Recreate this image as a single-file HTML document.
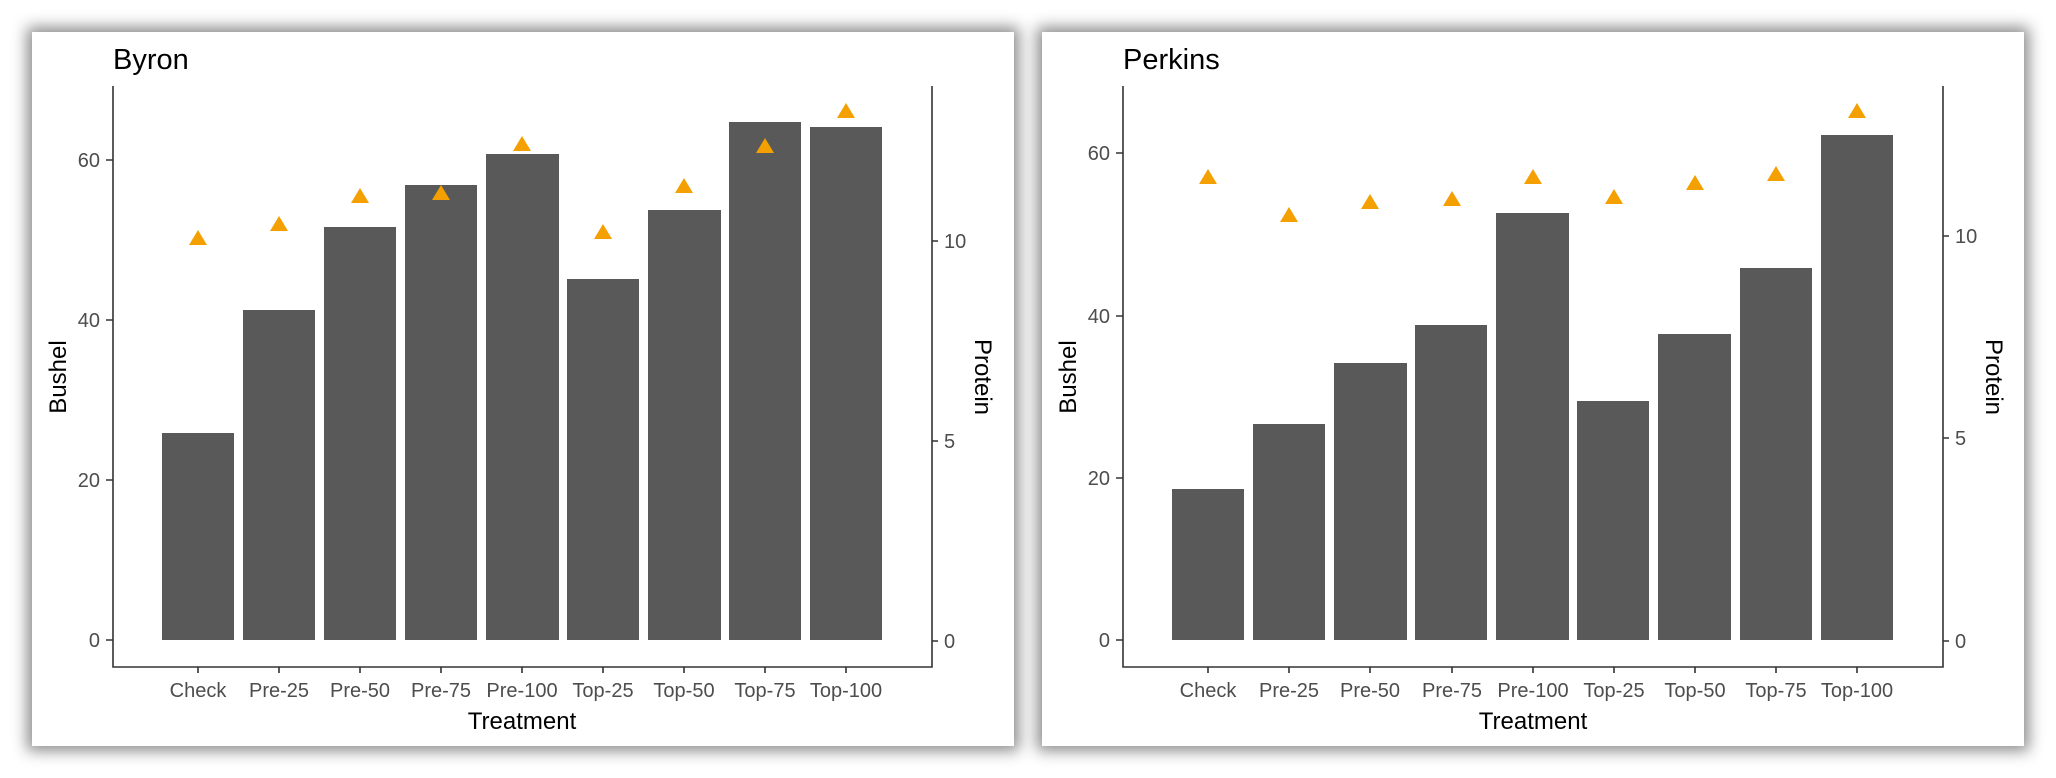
<!DOCTYPE html>
<html><head><meta charset="utf-8"><style>
html,body{margin:0;padding:0;background:#fff;}
body{width:2056px;height:778px;position:relative;overflow:hidden;}
.p{position:absolute;top:32px;height:714px;background:#fff;box-shadow:0 0 14px 5px rgba(0,0,0,0.45);}
svg{position:absolute;left:0;top:0;}
text{font-family:"Liberation Sans",sans-serif;}
</style></head><body>
<div class="p" style="left:32px;width:982px"></div>
<div class="p" style="left:1042px;width:982px"></div>
<svg width="2056" height="778" viewBox="0 0 2056 778">
<g id="L">
<text x="113" y="69" font-size="29" fill="#000">Byron</text>
<g fill="#595959">
<rect x="162" y="433" width="72" height="207"/>
<rect x="243" y="310" width="72" height="330"/>
<rect x="324" y="227" width="72" height="413"/>
<rect x="405" y="185" width="72" height="455"/>
<rect x="486" y="154" width="73" height="486"/>
<rect x="567" y="279" width="72" height="361"/>
<rect x="648" y="210" width="73" height="430"/>
<rect x="729" y="122" width="72" height="518"/>
<rect x="810" y="127" width="72" height="513"/>
</g>
<g fill="#f4a000">
<path d="M198 230 l9 15 h-18z"/><path d="M279 216 l9 15 h-18z"/><path d="M360 188 l9 15 h-18z"/>
<path d="M441 185 l9 15 h-18z"/><path d="M522 136 l9 15 h-18z"/><path d="M603 224 l9 15 h-18z"/>
<path d="M684 178 l9 15 h-18z"/><path d="M765 138 l9 15 h-18z"/><path d="M846 103 l9 15 h-18z"/>
</g>
<g stroke="#333" stroke-width="1.6" fill="none">
<path d="M113 86 V667 H932 V86"/>
<path d="M106 640h7M106 480h7M106 320h7M106 160h7"/>
<path d="M932 641h6M932 441h6M932 241h6"/>
<path d="M198 667v6M279 667v6M360 667v6M441 667v6M522 667v6M603 667v6M684 667v6M765 667v6M846 667v6"/>
</g>
<g font-size="20" fill="#4d4d4d" text-anchor="end">
<text x="100" y="647">0</text><text x="100" y="487">20</text><text x="100" y="327">40</text><text x="100" y="167">60</text>
</g>
<g font-size="20" fill="#4d4d4d">
<text x="944" y="648">0</text><text x="944" y="448">5</text><text x="944" y="248">10</text>
</g>
<g font-size="20" fill="#4d4d4d" text-anchor="middle">
<text x="198" y="697">Check</text><text x="279" y="697">Pre-25</text><text x="360" y="697">Pre-50</text><text x="441" y="697">Pre-75</text><text x="522" y="697">Pre-100</text><text x="603" y="697">Top-25</text><text x="684" y="697">Top-50</text><text x="765" y="697">Top-75</text><text x="846" y="697">Top-100</text>
</g>
<text x="522" y="729" font-size="24" text-anchor="middle">Treatment</text>
<text transform="translate(66,377) rotate(-90)" font-size="24" text-anchor="middle">Bushel</text>
<text transform="translate(975,377) rotate(90)" font-size="24" text-anchor="middle">Protein</text>
</g>
<g id="R">
<text x="1123" y="69" font-size="29" fill="#000">Perkins</text>
<g fill="#595959">
<rect x="1172" y="489" width="72" height="151"/>
<rect x="1253" y="424" width="72" height="216"/>
<rect x="1334" y="363" width="73" height="277"/>
<rect x="1415" y="325" width="72" height="315"/>
<rect x="1496" y="213" width="73" height="427"/>
<rect x="1577" y="401" width="72" height="239"/>
<rect x="1658" y="334" width="73" height="306"/>
<rect x="1740" y="268" width="72" height="372"/>
<rect x="1821" y="135" width="72" height="505"/>
</g>
<g fill="#f4a000">
<path d="M1208 169 l9 15 h-18z"/><path d="M1289 207 l9 15 h-18z"/><path d="M1370 194 l9 15 h-18z"/>
<path d="M1452 191 l9 15 h-18z"/><path d="M1533 169 l9 15 h-18z"/><path d="M1614 189 l9 15 h-18z"/>
<path d="M1695 175 l9 15 h-18z"/><path d="M1776 166 l9 15 h-18z"/><path d="M1857 103 l9 15 h-18z"/>
</g>
<g stroke="#333" stroke-width="1.6" fill="none">
<path d="M1123 86 V667 H1943 V86"/>
<path d="M1116 640h7M1116 478h7M1116 316h7M1116 153h7"/>
<path d="M1943 641h6M1943 438h6M1943 236h6"/>
<path d="M1208 667v6M1289 667v6M1370 667v6M1452 667v6M1533 667v6M1614 667v6M1695 667v6M1776 667v6M1857 667v6"/>
</g>
<g font-size="20" fill="#4d4d4d" text-anchor="end">
<text x="1110" y="647">0</text><text x="1110" y="485">20</text><text x="1110" y="323">40</text><text x="1110" y="160">60</text>
</g>
<g font-size="20" fill="#4d4d4d">
<text x="1955" y="648">0</text><text x="1955" y="445">5</text><text x="1955" y="243">10</text>
</g>
<g font-size="20" fill="#4d4d4d" text-anchor="middle">
<text x="1208" y="697">Check</text><text x="1289" y="697">Pre-25</text><text x="1370" y="697">Pre-50</text><text x="1452" y="697">Pre-75</text><text x="1533" y="697">Pre-100</text><text x="1614" y="697">Top-25</text><text x="1695" y="697">Top-50</text><text x="1776" y="697">Top-75</text><text x="1857" y="697">Top-100</text>
</g>
<text x="1533" y="729" font-size="24" text-anchor="middle">Treatment</text>
<text transform="translate(1076,377) rotate(-90)" font-size="24" text-anchor="middle">Bushel</text>
<text transform="translate(1986,377) rotate(90)" font-size="24" text-anchor="middle">Protein</text>
</g>
</svg>
</body></html>
